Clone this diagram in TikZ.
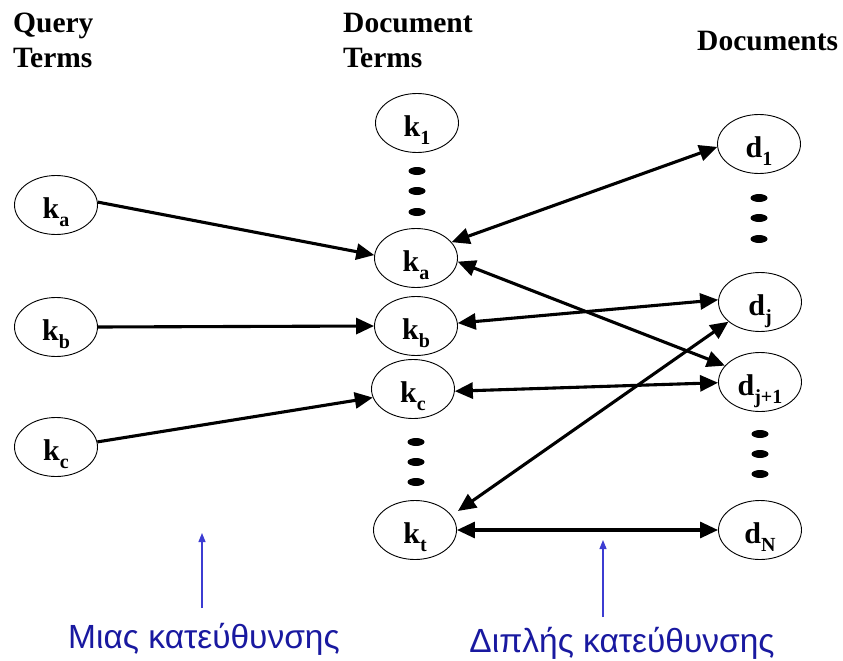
\documentclass[tikz,border=0pt]{standalone}
\usepackage{fontspec}
\setmainfont{Liberation Serif}
\newfontfamily\greekfont{Liberation Sans}
\usetikzlibrary{arrows.meta,calc,shapes.geometric}
\definecolor{lblue}{RGB}{25,25,160}
\definecolor{lline}{RGB}{60,60,210}
\newcommand\lowsub[1]{\raisebox{-8pt}{\fontsize{20}{20}\selectfont #1}}
\begin{document}
\begin{tikzpicture}[x=1pt,y=-1pt,
 term/.style={draw, ellipse, line width=0.9pt, minimum width=83pt, minimum height=59pt, inner sep=0pt, text height=31pt, text depth=4pt, font=\fontsize{30}{30}\selectfont\bfseries},
 dotmark/.style={fill=black, ellipse, minimum width=17pt, minimum height=8pt, inner sep=0pt},
 hdr/.style={anchor=base west, inner sep=0pt, font=\fontsize{29.5}{30}\selectfont\bfseries},
 link/.style={line width=3.1pt, -{Triangle[length=18pt,width=16pt]}},
 biLink/.style={line width=3.1pt, {Triangle[length=18pt,width=16pt]}-{Triangle[length=18pt,width=16pt]}},
 note/.style={font=\greekfont\fontsize{33.5}{34}\selectfont, text=lblue, inner sep=0pt, anchor=base},
 pointer/.style={draw=lline, line width=1.2pt, -{Triangle[length=9pt,width=7pt]}}
]
\useasboundingbox (0,0) rectangle (843,661);

% headers
\node[hdr] (qh1) at (13,33) {Query};
\node[hdr] (qh2) at (13,67) {Terms};
\node[hdr] (dh1) at (343,33) {Document};
\node[hdr] (dh2) at (343,67) {Terms};
\node[hdr] (ch) at (697,51) {Documents};

% query terms
\node[term] (lka) at (56,205) {k\lowsub{a}};
\node[term] (lkb) at (56,327) {k\lowsub{b}};
\node[term] (lkc) at (56,447) {k\lowsub{c}};

% document terms
\node[term] (k1) at (417,123) {k\lowsub{1}};
\node[term] (mka) at (416,258) {k\lowsub{a}};
\node[term] (mkb) at (416,326) {k\lowsub{b}};
\node[term] (mkc) at (413,389) {k\lowsub{c}};
\node[term] (mkt) at (415,530) {k\lowsub{t}};

% documents
\node[term] (d1) at (759,144) {d\lowsub{1}};
\node[term] (dj) at (760,302) {d\lowsub{j}};
\node[term] (dj1) at (760,382) {d\lowsub{j+1}};
\node[term] (dN) at (760,530) {d\lowsub{N}};

% dots
\node[dotmark] (u1) at (417,171) {};
\node[dotmark] (u2) at (417,191) {};
\node[dotmark] (u3) at (417,212) {};
\node[dotmark] (l1) at (416,442) {};
\node[dotmark] (l2) at (416,462) {};
\node[dotmark] (l3) at (416,482) {};
\node[dotmark] (r1) at (759,198) {};
\node[dotmark] (r2) at (759,218) {};
\node[dotmark] (r3) at (759,239) {};
\node[dotmark] (s1) at (760,434) {};
\node[dotmark] (s2) at (760,454) {};
\node[dotmark] (s3) at (760,474) {};

% one-way links
\draw[link] (lka.4) -- (mka.176);
\draw[link] (lkb.east) -- (mkb.west);
\draw[link] (lkc.7) -- (mkc.192);

% two-way links
\draw[biLink] (mka.24) -- (d1.184);
\draw[biLink] (mka.-5) -- (dj1.155);
\draw[biLink] (mkb.4) -- (dj.177);
\draw[biLink] (mkc.-3) -- (dj1.181);
\draw[biLink] ($(mkt.east)+(1,-19)$) -- (dj.212);
\draw[biLink] (mkt.east) -- (dN.west);

% notes
\coordinate (p1s) at (202,608);
\coordinate (p1e) at (202,533);
\coordinate (p2s) at (603,617);
\coordinate (p2e) at (603,540);
\draw[pointer] (p1s) -- (p1e);
\draw[pointer] (p2s) -- (p2e);
\node[note] (n1) at (204,648) {Μιας κατεύθυνσης};
\node[note] (n2) at (622,652) {Διπλής κατεύθυνσης};
\end{tikzpicture}
\end{document}
